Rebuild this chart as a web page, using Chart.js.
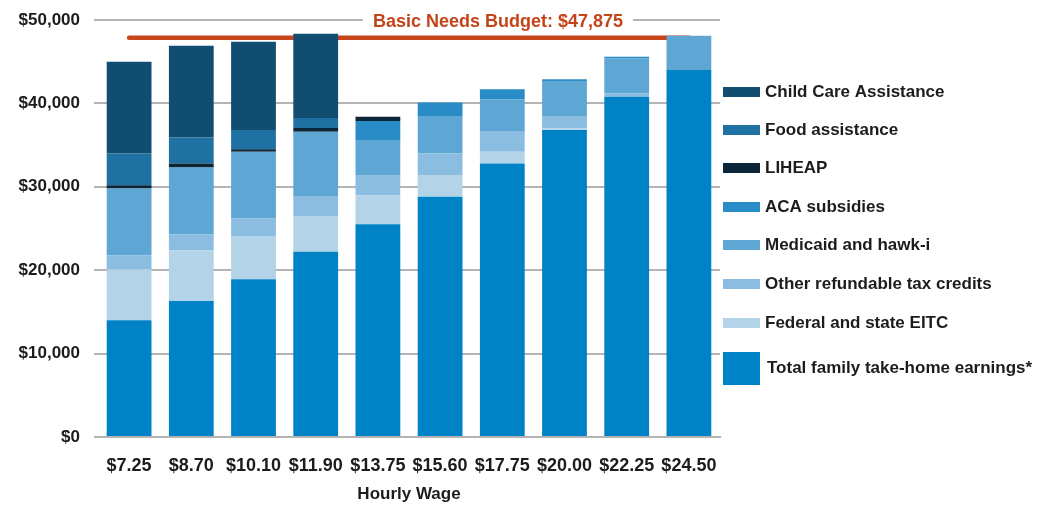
<!DOCTYPE html>
<html>
<head>
<meta charset="utf-8">
<script src="https://cdn.jsdelivr.net/npm/chart.js@4.4.1/dist/chart.umd.min.js"></script>
<style>
  html, body { margin: 0; padding: 0; background: #fff; }
  #wrap { width: 1051px; height: 509px; position: relative; }
</style>
</head>
<body>
<div id="wrap"><canvas id="myChart"></canvas></div>
<script>
// wages on the x axis
let wages = ["$7.25","$8.70","$10.10","$11.90","$13.75","$15.60","$17.75","$20.00","$22.25","$24.50"];

// stacked components, bottom to top (dollars per year)
let earnings   = [14000, 16300, 18900, 22200, 25500, 28800, 32800, 36800, 40800, 44000];
let eitc       = [6100, 6100, 5200, 4300, 3500, 2600, 1400, 200, 0, 0];
let otherCred  = [1700, 1900, 2100, 2300, 2400, 2600, 2400, 1400, 400, 0];
let medicaid   = [8000, 8000, 8000, 7800, 4200, 4400, 3900, 4300, 4200, 4100];
let aca        = [0, 0, 0, 0, 2300, 1700, 1200, 200, 200, 0];
let liheap     = [400, 500, 300, 450, 500, 0, 0, 0, 0, 0];
let food       = [3800, 3100, 2300, 1200, 0, 0, 0, 0, 0, 0];
let childCare  = [11000, 11000, 10600, 10100, 0, 0, 0, 0, 0, 0];

let basicNeeds = 47875;
let yTicks = [0, 10000, 20000, 30000, 40000, 50000];

let seriesNames  = ["Total family take-home earnings*", "Federal and state EITC", "Other refundable tax credits",
                    "Medicaid and hawk-i", "ACA subsidies", "LIHEAP", "Food assistance", "Child Care Assistance"];
let seriesData   = [earnings, eitc, otherCred, medicaid, aca, liheap, food, childCare];
let seriesColors = ["#0082c6", "#b3d3e8", "#8bbde0", "#5ea6d3", "#2a8cc6", "#0b2638", "#1e71a0", "#114d71"];

const FONT = "'Liberation Sans Narrow', 'Arial Narrow', 'Liberation Sans', Arial, sans-serif";

let datasets = seriesData.map((d, i) => ({
  type: 'bar',
  label: seriesNames[i],
  data: d,
  backgroundColor: seriesColors[i],
  borderWidth: 0,
  stack: 'a',
  order: 1,
  barPercentage: 0.72,
  categoryPercentage: 1.0
}));

// budget line sits behind the bars
datasets.push({
  type: 'line',
  label: 'Basic Needs Budget',
  data: wages.map(() => basicNeeds),
  borderColor: '#c8461a',
  borderWidth: 4.5,
  borderCapStyle: 'round',
  pointRadius: 0,
  fill: false,
  order: 5
});

// custom legend + budget label
const extras = {
  id: 'extras',
  afterDraw(chart) {
    const c = chart.ctx;
    const area = chart.chartArea;
    const ys = chart.scales.y;

    // budget label with white backing that breaks the top gridline
    c.save();
    c.font = "bold 18px " + FONT;
    const txt = "Basic Needs Budget: $47,875";
    const w = c.measureText(txt).width;
    const cx = area.left + 0.643 * (area.right - area.left);
    const ty = ys.getPixelForValue(50000) + 2;
    c.fillStyle = '#fff';
    c.fillRect(cx - w / 2 - 10, ty - 9, w + 20, 18);
    c.fillStyle = '#c4441a';
    c.textAlign = 'center';
    c.textBaseline = 'middle';
    c.fillText(txt, cx, ty);
    c.restore();

    // legend, top item first
    c.save();
    c.font = "bold 17px " + FONT;
    c.textBaseline = 'middle';
    const rows = [92, 130, 168, 207, 245, 284, 323];
    for (let k = 0; k < 7; k++) {
      const i = 7 - k;
      c.fillStyle = seriesColors[i];
      c.fillRect(723, rows[k] - 5, 37, 10);
      c.fillStyle = '#1c1c1c';
      c.fillText(seriesNames[i], 765, rows[k]);
    }
    c.fillStyle = seriesColors[0];
    c.fillRect(723, 352, 37, 33);
    c.fillStyle = '#1c1c1c';
    c.fillText(seriesNames[0], 767, 368);
    c.restore();
  }
};

let ctx = document.getElementById('myChart').getContext('2d');

const myChart = new Chart(ctx, {
  data: {
    labels: wages,
    datasets: datasets
  },
  options: {
    responsive: true,
    maintainAspectRatio: false,
    animation: false,
    devicePixelRatio: 1,
    layout: { padding: { top: 20, right: 331, left: 0, bottom: 0 } },
    plugins: {
      legend: { display: false },
      tooltip: { enabled: false }
    },
    scales: {
      x: {
        stacked: true,
        grid: { display: false },
        border: { color: '#b4b4b4', width: 2 },
        ticks: {
          color: '#1c1c1c',
          font: { family: FONT, size: 18, weight: 'bold' },
          padding: 10,
          maxRotation: 0
        },
        title: {
          display: true,
          text: 'Hourly Wage',
          color: '#1c1c1c',
          font: { family: FONT, size: 17, weight: 'bold' },
          padding: { top: 4 }
        },
        afterFit(scale) { scale.height = 72; }
      },
      y: {
        stacked: true,
        min: 0,
        max: 50000,
        afterBuildTicks(scale) { scale.ticks = yTicks.map(v => ({ value: v })); },
        grid: { color: '#b4b4b4', lineWidth: 2, tickLength: 4 },
        border: { display: false },
        ticks: {
          color: '#1c1c1c',
          font: { family: FONT, size: 17, weight: 'bold' },
          padding: 14,
          callback: v => '$' + v.toLocaleString('en-US')
        },
        afterFit(scale) {
          scale.width = 98;
          scale.paddingTop = 0;
          scale.paddingBottom = 0;
        }
      }
    }
  },
  plugins: [extras]
});
</script>
</body>
</html>
